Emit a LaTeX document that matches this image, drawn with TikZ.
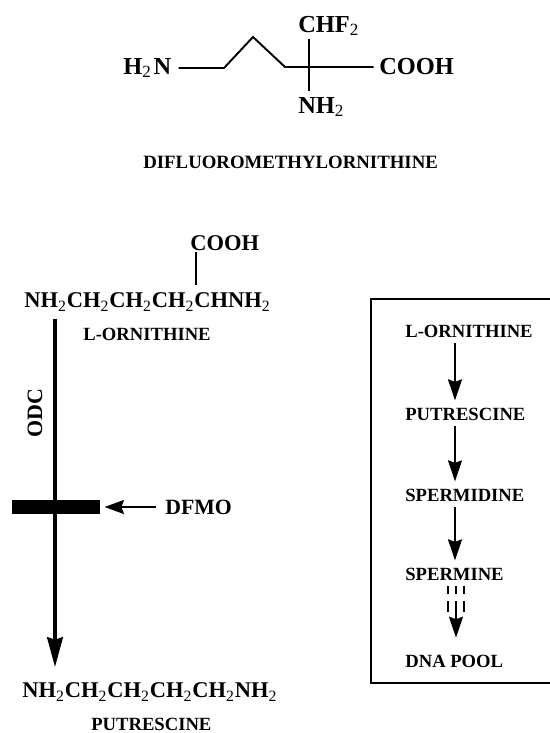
\documentclass[tikz,border=0pt]{standalone}
\usepackage{fontspec}
\setmainfont{Liberation Serif}
\usetikzlibrary{arrows.meta}
\newcommand{\subn}{\textsubscript{\mdseries 2}}
\tikzset{
    formula/.style={anchor=west,inner sep=0pt,font=\fontsize{12.8}{15}\selectfont\bfseries},
    bigformula/.style={anchor=west,inner sep=0pt,font=\fontsize{13.9}{16}\selectfont\bfseries},
    namelabel/.style={anchor=west,inner sep=0pt,font=\fontsize{10.6}{12}\selectfont\bfseries},
    bond/.style={line width=0.8pt},
    flowarrow/.style={line width=0.8pt,-{Stealth[length=12pt,width=8pt,inset=1.5pt]},shorten <=3pt,shorten >=4pt}
}
\begin{document}
\begin{tikzpicture}[x=0.02cm,y=-0.02cm]
    \useasboundingbox (0,0) rectangle (550,733);

    % Difluoromethylornithine
    \node[bigformula] (topamine) at (123,68) {H\subn\hspace{0.08em}N};
    \node[bigformula] (topacid) at (379,67) {COOH};
    \node[bigformula] (topchf) at (298,26) {CHF\subn};
    \node[bigformula] (topnh) at (298,107) {NH\subn};
    \node[namelabel,font=\fontsize{10.7}{12}\selectfont\bfseries] (dfname) at (143,162) {DIFLUOROMETHYLORNITHINE};
    \coordinate (ca) at (224,68);
    \coordinate (cb) at (253,37);
    \coordinate (cc) at (285,67);
    \coordinate (cd) at (309,67);
    \coordinate (cdtop) at (309,39);
    \coordinate (cdlow) at (309,91);
    \draw[bond,line width=1.1pt,shorten <=4pt,shorten >=3pt] (topamine.east) -- (ca) -- (cb) -- (cc) -- (cd) -- (topacid.west);
    \draw[bond] (cdtop) -- (cdlow);

    % Ornithine to putrescine
    \node[formula] (ornacid) at (190,243) {COOH};
    \node[formula] (ornchain) at (24,302) {NH\subn CH\subn CH\subn CH\subn CHNH\subn};
    \node[namelabel] (ornname) at (83,334) {L-ORNITHINE};
    \node[formula] (putchain) at (22,692) {NH\subn CH\subn CH\subn CH\subn CH\subn NH\subn};
    \node[namelabel] (putname) at (91,724) {PUTRESCINE};
    \coordinate (acidfoot) at (196,285);
    \coordinate (acidhead) at (196,252);
    \draw[bond] (acidhead) -- (acidfoot);
    \coordinate (odcstart) at (55,319);
    \coordinate (odctip) at (55,667);
    \draw[line width=1.8pt,-{Stealth[length=17pt,width=9pt,inset=1.5pt]}] (odcstart) -- (odctip);
    \node[namelabel,anchor=center,rotate=90,font=\fontsize{12.5}{14}\selectfont\bfseries] (odc) at (35,413) {ODC};

    % Inhibition
    \node[fill=black,inner sep=0pt,minimum width=50pt,minimum height=8pt] (block) at (56,507) {};
    \node[formula,font=\fontsize{12.4}{15}\selectfont\bfseries] (dfmo) at (165,507) {DFMO};
    \draw[flowarrow,-{Stealth[length=11pt,width=8pt,inset=1.5pt]},shorten <=5pt,shorten >=2.5pt] (dfmo.west) -- (block.east);

    % Pathway box
    \draw[line width=0.8pt] (550,299) -- (371,299) -- (371,683) -- (550,683);
    \node[namelabel] (ornbox) at (405,331) {L-ORNITHINE};
    \node[namelabel] (putbox) at (405,414) {PUTRESCINE};
    \node[namelabel] (spdbox) at (405,495) {SPERMIDINE};
    \node[namelabel] (spmbox) at (405,574) {SPERMINE};
    \node[namelabel] (dnabox) at (405,661) {DNA POOL};
    \coordinate (axis) at (455,0);
    \draw[flowarrow] (ornbox.south -| axis) -- (putbox.north -| axis);
    \draw[flowarrow] (putbox.south -| axis) -- (spdbox.north -| axis);
    \draw[flowarrow] (spdbox.south -| axis) -- (spmbox.north -| axis);

    % Dashed step
    \foreach \x in {448,456,464} {
        \draw[bond] (\x,586) -- (\x,594);
        \draw[bond] (\x,601) -- (\x,612);
    }
    \coordinate (dashend) at (456,612);
    \coordinate (dnaaxis) at (456,0);
    \draw[flowarrow,shorten <=0pt,shorten >=9.5pt] (dashend) -- (dnabox.north -| dnaaxis);
\end{tikzpicture}
\end{document}
